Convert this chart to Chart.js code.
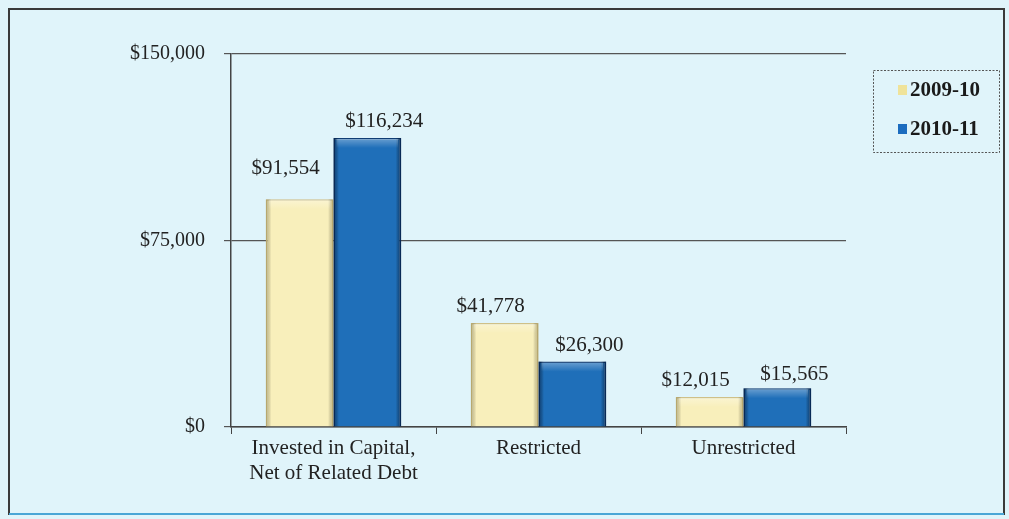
<!DOCTYPE html>
<html>
<head>
<meta charset="utf-8">
<script src="https://cdn.jsdelivr.net/npm/chart.js@4/dist/chart.umd.min.js"></script>
<style>
html,body{margin:0;padding:0;background:#e0f4fa;}
#wrap{position:absolute;left:0;top:0;width:1009px;height:519px;}
</style>
</head>
<body>
<div id="wrap"><canvas id="c" width="1009" height="519"></canvas></div>
<script>
const categories = [["Invested in Capital,", "Net of Related Debt"], "Restricted", "Unrestricted"];
const seriesNames = ["2009-10", "2010-11"];
const values2009 = [91554, 41778, 12015];
const values2010 = [116234, 26300, 15565];
const yTicks = [0, 75000, 150000];

const serif = "'Liberation Serif', 'DejaVu Serif', serif";
const fmt = v => "$" + v.toLocaleString("en-US");

// label placement style (per dataset horizontal shift, per label extra lift)
const labelShiftX = [-14, 17];
const labelLift = [[14, 0, 0], [0, 0, -3]];

const frame = {
  id: "frame",
  beforeDraw(chart) {
    const ctx = chart.ctx;
    ctx.save();
    ctx.fillStyle = "#e0f4fa";
    ctx.fillRect(0, 0, chart.width, chart.height);
    ctx.strokeStyle = "#3a3a3a";
    ctx.lineWidth = 2;
    ctx.strokeRect(9, 9, 995, 505);
    ctx.strokeStyle = "#4aa6d6";
    ctx.beginPath(); ctx.moveTo(9, 514); ctx.lineTo(1004, 514); ctx.stroke();
    ctx.restore();
  },
  afterDatasetsDraw(chart) {
    const ctx = chart.ctx;
    ctx.save();
    // bevel shading on bars
    chart.data.datasets.forEach((ds, di) => {
      chart.getDatasetMeta(di).data.forEach((bar) => {
        const l = bar.x - bar.width / 2, r = bar.x + bar.width / 2, t = bar.y, b = bar.base;
        const g = ctx.createLinearGradient(l, 0, r, 0);
        const dark = ds.edgeShade;
        g.addColorStop(0, dark);
        g.addColorStop(0.08, "rgba(0,0,0,0)");
        g.addColorStop(0.92, "rgba(0,0,0,0)");
        g.addColorStop(1, dark);
        ctx.fillStyle = g;
        ctx.fillRect(l, t, r - l, b - t);
        const gv = ctx.createLinearGradient(0, t, 0, t + 10);
        gv.addColorStop(0, "rgba(255,255,255,0.35)");
        gv.addColorStop(1, "rgba(255,255,255,0)");
        ctx.fillStyle = gv;
        ctx.fillRect(l + 3, t + 1, r - l - 6, Math.min(10, b - t - 2));
      });
    });
    ctx.font = "21px " + serif;
    ctx.fillStyle = "#222";
    ctx.textAlign = "center";
    ctx.textBaseline = "alphabetic";
    chart.data.datasets.forEach((ds, di) => {
      chart.getDatasetMeta(di).data.forEach((bar, i) => {
        ctx.fillText(fmt(ds.data[i]), bar.x + labelShiftX[di], bar.y - 11 - labelLift[di][i]);
      });
    });
    // legend
    ctx.setLineDash([2, 1.5]);
    ctx.strokeStyle = "#555";
    ctx.lineWidth = 1;
    ctx.strokeRect(873.5, 70.5, 126, 82);
    ctx.setLineDash([]);
    ctx.font = "bold 21px " + serif;
    ctx.textAlign = "left";
    ctx.textBaseline = "middle";
    const ys = [90, 129];
    chart.data.datasets.forEach((ds, di) => {
      ctx.fillStyle = ds.legendColor;
      ctx.fillRect(898, ys[di] - 5, 9, 10);
      ctx.fillStyle = "#1a1a1a";
      ctx.fillText(ds.label, 910, ys[di] + 1);
    });
    ctx.restore();
  }
};

new Chart(document.getElementById("c"), {
  type: "bar",
  data: {
    labels: categories,
    datasets: [
      { label: seriesNames[0], data: values2009, backgroundColor: "#f8efbb", borderColor: "#cfc088", borderWidth: 1.5, legendColor: "#efe39a", edgeShade: "rgba(170,150,80,0.45)" },
      { label: seriesNames[1], data: values2010, backgroundColor: "#1f6fb9", borderColor: "#0d3b72", borderWidth: 1.5, legendColor: "#1b6cbf", edgeShade: "rgba(5,30,70,0.6)" }
    ]
  },
  options: {
    responsive: false,
    animation: false,
    layout: { padding: { left: 0, right: 163, top: 54, bottom: 0 } },
    plugins: { legend: { display: false }, tooltip: { enabled: false } },
    datasets: { bar: { categoryPercentage: 0.66, barPercentage: 1.0 } },
    scales: {
      x: {
        offset: true,
        afterFit(s) { s.height = 92; },
        grid: { display: true, drawOnChartArea: false, drawTicks: true, tickLength: 7, color: "#444", offset: true },
        border: { display: true, color: "#444", width: 1.5 },
        ticks: { color: "#222", font: { family: serif, size: 21, lineHeight: 1.2 }, padding: 2, maxRotation: 0, autoSkip: false }
      },
      y: {
        min: 0, max: 150000,
        afterFit(s) { s.width = 231; },
        afterBuildTicks(s) { s.ticks = yTicks.map(v => ({ value: v })); },
        grid: { color: "#555", lineWidth: 1.2, tickLength: 7 },
        border: { display: true, color: "#444", width: 1.5 },
        ticks: { color: "#222", font: { family: serif, size: 20 }, padding: 19, callback: v => fmt(v) }
      }
    }
  },
  plugins: [frame]
});
</script>
</body>
</html>
